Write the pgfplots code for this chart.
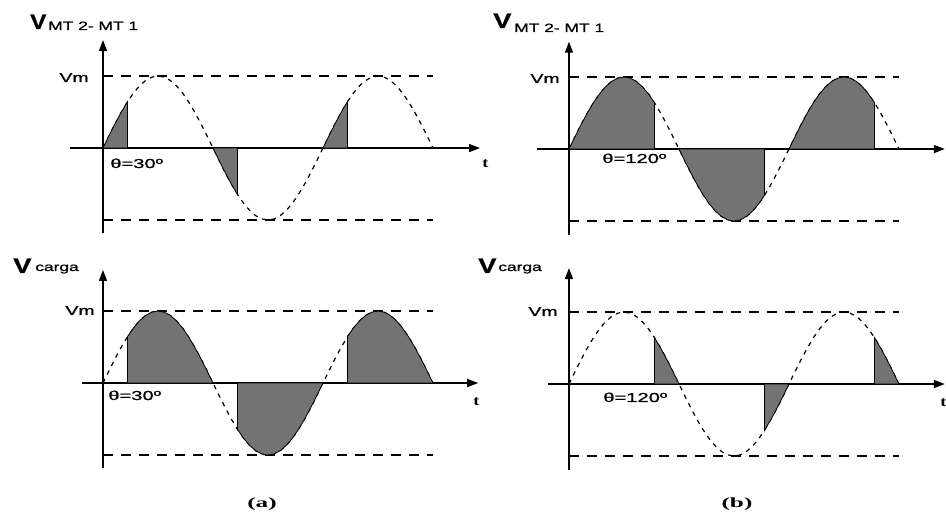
\documentclass[border=0pt]{standalone}
\usepackage{pgfplots}
\pgfplotsset{compat=1.18}
\usepackage{pgfplotstable}
\usetikzlibrary{arrows.meta}
\usepackage{fontspec}
\setmainfont{Liberation Sans}[FakeBold=0.8]
\newfontfamily\heavy{Liberation Sans}[FakeBold=0.8]
\newfontfamily\serifb{Liberation Serif}

\pgfplotstableread{
a v
0 0
10 0.1736
20 0.3420
30 0.5
40 0.6428
50 0.7660
60 0.8660
70 0.9397
80 0.9848
90 1
100 0.9848
110 0.9397
120 0.8660
130 0.7660
140 0.6428
150 0.5
160 0.3420
170 0.1736
180 0
190 -0.1736
200 -0.3420
210 -0.5
220 -0.6428
230 -0.7660
240 -0.8660
250 -0.9397
260 -0.9848
270 -1
280 -0.9848
290 -0.9397
300 -0.8660
310 -0.7660
320 -0.6428
330 -0.5
340 -0.3420
350 -0.1736
360 0
370 0.1736
380 0.3420
390 0.5
400 0.6428
410 0.7660
420 0.8660
430 0.9397
440 0.9848
450 1
460 0.9848
470 0.9397
480 0.8660
490 0.7660
500 0.6428
510 0.5
520 0.3420
530 0.1736
540 0
}\sine

\pgfplotsset{
  panel/.style={
    anchor=south west, x=0.6111pt, y=72pt,
    axis lines=middle,
    axis line style={line width=1.4pt, -{Triangle[length=11pt,width=8pt]}},
    xtick=\empty, ytick=\empty, clip=false,
  },
  shade/.style={fill=black!55, draw=black, line width=0.8pt},
}
\newcommand{\basecurves}{%
  \addplot[dash pattern=on 10pt off 8pt, line width=1.1pt] coordinates {(0,1) (540,1)};
  \addplot[dash pattern=on 10pt off 8pt, line width=1.1pt] coordinates {(0,-1) (540,-1)};
  \addplot[dash pattern=on 4.5pt off 5pt, line width=1.2pt] table[x=a,y=v] {\sine};
}
\newcommand{\seg}[2]{%
  \addplot[shade, restrict x to domain=#1:#2] table[x=a,y=v] {\sine} \closedcycle;
}
\newcommand{\lbl}[1]{\heavy\fontsize{13}{13}\selectfont #1}
\newcommand{\bigV}{\fontsize{21}{21}\selectfont\bfseries V}
\newcommand{\sub}[1]{\heavy\fontsize{12}{12}\selectfont #1}
\newcommand{\tl}[1]{\serifb\fontsize{14}{14}\selectfont\bfseries #1}

\begin{document}
\begin{tikzpicture}
\useasboundingbox (0pt,0pt) rectangle (946pt,517pt);

% top-left
\begin{axis}[panel, at={(70pt,284pt)}, xmin=-54, xmax=617, ymin=-1.18, ymax=1.5]
\basecurves
\seg{0}{40}\seg{180}{220}\seg{360}{400}
\end{axis}

% bottom-left
\begin{axis}[panel, at={(82.2pt,49pt)}, xmin=-34, xmax=614, ymin=-1.18, ymax=1.57]
\basecurves
\seg{40}{180}\seg{220}{360}\seg{400}{540}
\end{axis}

% top-right
\begin{axis}[panel, at={(537.2pt,282.3pt)}, xmin=-52, xmax=615, ymin=-1.19, ymax=1.49]
\basecurves
\seg{0}{140}\seg{180}{320}\seg{360}{500}
\end{axis}

% bottom-right
\begin{axis}[panel, at={(548.2pt,47.3pt)}, xmin=-34, xmax=615, ymin=-1.19, ymax=1.61]
\basecurves
\seg{140}{180}\seg{320}{360}\seg{500}{540}
\end{axis}

% labels: V_MT2-MT1
\node[anchor=base west, inner sep=0, xscale=1.15] at (30pt,488pt) {\bigV};
\node[anchor=base west, inner sep=0, xscale=1.45] at (48pt,487pt) {\sub{MT 2- MT 1}};
\node[anchor=base west, inner sep=0, xscale=1.3] at (493pt,489pt) {\bigV};
\node[anchor=base west, inner sep=0, xscale=1.45] at (514pt,485pt) {\sub{MT 2- MT 1}};
% V_carga
\node[anchor=base west, inner sep=0, xscale=1.3] at (13pt,244pt) {\bigV};
\node[anchor=base west, inner sep=0, xscale=1.45] at (35pt,246pt) {\sub{carga}};
\node[anchor=base west, inner sep=0, xscale=1.3] at (478pt,244pt) {\bigV};
\node[anchor=base west, inner sep=0, xscale=1.45] at (498pt,246pt) {\sub{carga}};
% Vm
\node[anchor=base east, inner sep=0, xscale=1.5] at (89pt,435pt) {\lbl{Vm}};
\node[anchor=base east, inner sep=0, xscale=1.5] at (95pt,202pt) {\lbl{Vm}};
\node[anchor=base east, inner sep=0, xscale=1.5] at (560pt,434pt) {\lbl{Vm}};
\node[anchor=base east, inner sep=0, xscale=1.5] at (558pt,201pt) {\lbl{Vm}};
% theta
\node[anchor=base west, inner sep=0, xscale=1.55] at (110pt,349pt) {\lbl{θ=30º}};
\node[anchor=base west, inner sep=0, xscale=1.55] at (108pt,117pt) {\lbl{θ=30º}};
\node[anchor=base west, inner sep=0, xscale=1.55] at (602pt,354pt) {\lbl{θ=120º}};
\node[anchor=base west, inner sep=0, xscale=1.55] at (603pt,115pt) {\lbl{θ=120º}};
% t
\node[anchor=base west, inner sep=0, xscale=1.3] at (482pt,349pt) {\tl{t}};
\node[anchor=base west, inner sep=0, xscale=1.3] at (473pt,111pt) {\tl{t}};
\node[anchor=base west, inner sep=0, xscale=1.3] at (940pt,110pt) {\tl{t}};
% (a) (b)
\node[inner sep=0, xscale=1.8] at (262pt,13pt) {\tl{(a)}};
\node[inner sep=0, xscale=1.8] at (737pt,13pt) {\tl{(b)}};
\end{tikzpicture}
\end{document}
